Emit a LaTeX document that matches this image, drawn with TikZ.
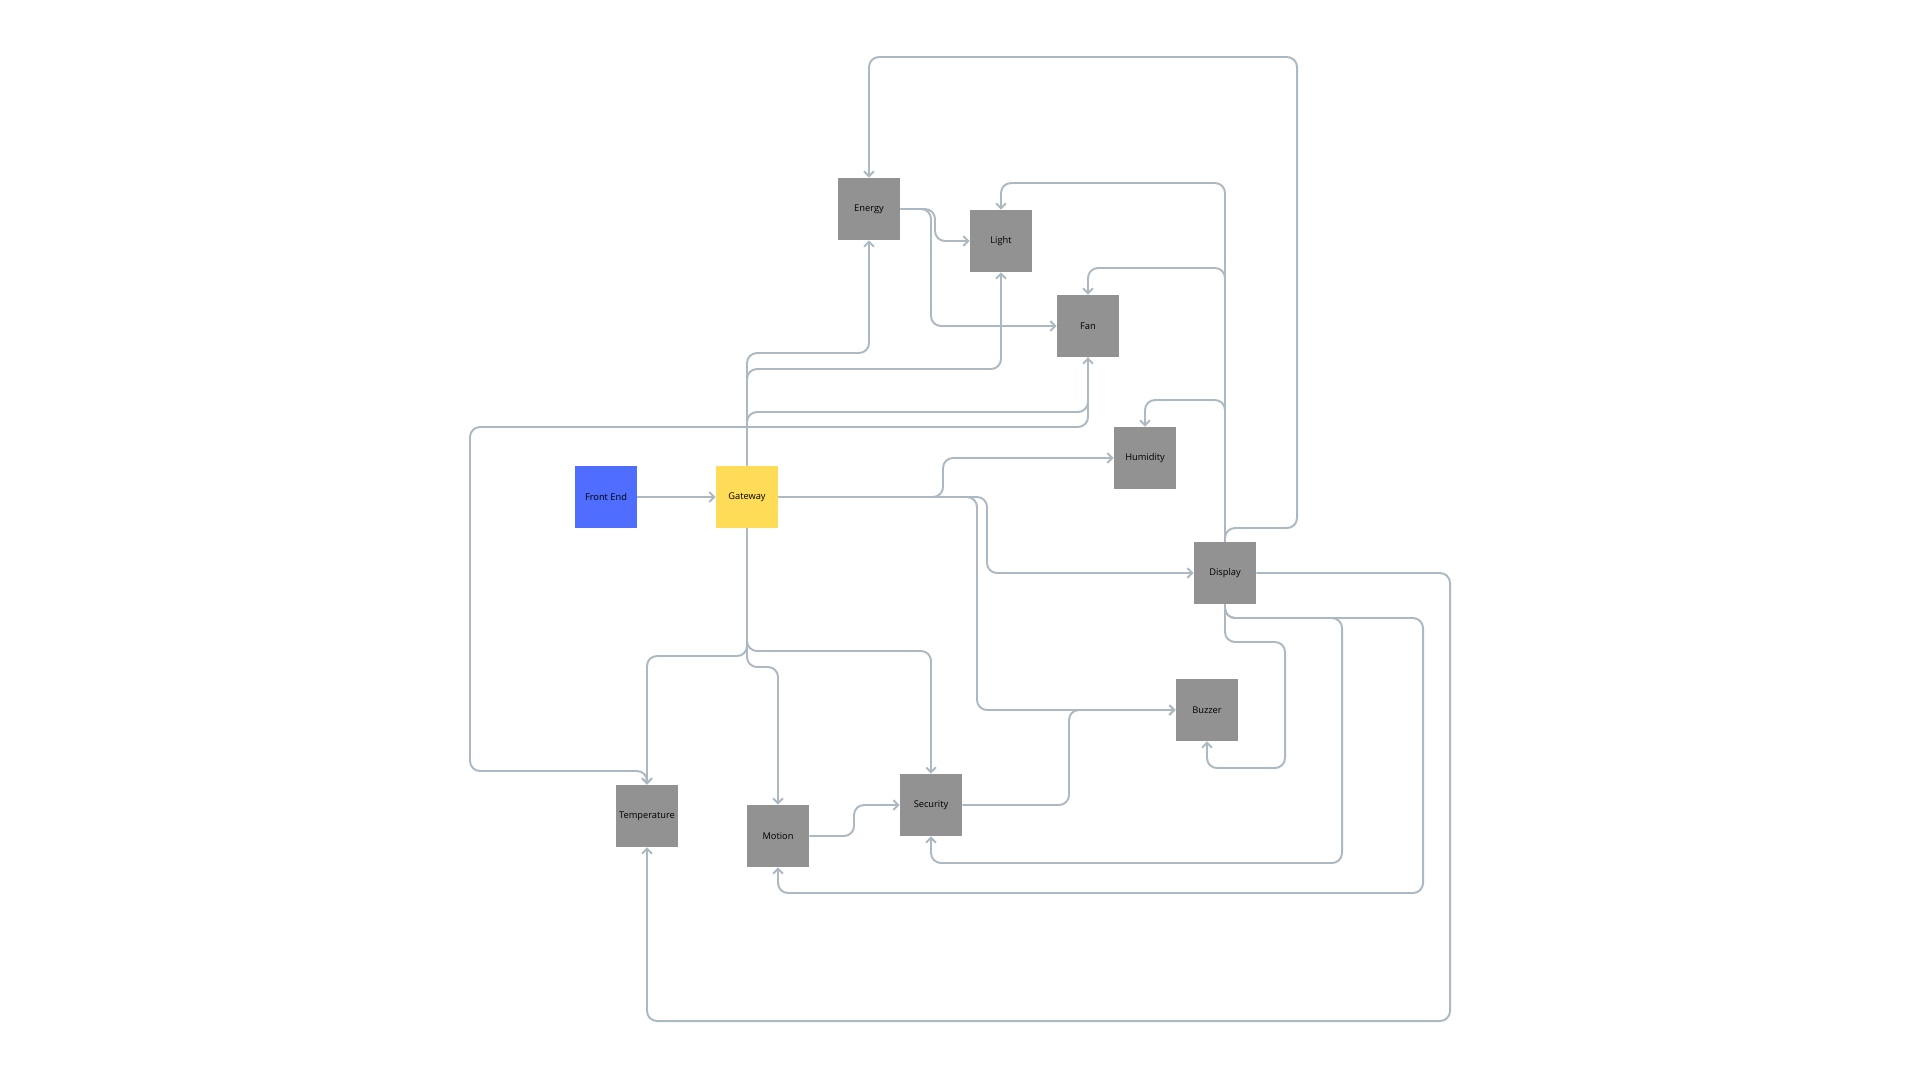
\documentclass[tikz,border=0pt]{standalone}
\usepackage{fontspec}
\setmainfont{Open Sans}
\usepackage{xcolor}
\usetikzlibrary{arrows.meta}
\definecolor{linkgray}{HTML}{ADB9C2}
\definecolor{boxgray}{HTML}{929292}
\definecolor{feblue}{HTML}{4F6DFF}
\definecolor{gwyellow}{HTML}{FFDC58}

\begin{document}
\begin{tikzpicture}[x=0.025cm, y=-0.025cm,
	box/.style={minimum width=1.55cm, minimum height=1.55cm, inner sep=0pt, text=black, font=\fontsize{6.6}{7}\selectfont},
	link/.style={draw=linkgray, line width=1.4pt, rounded corners=0.25cm, -{Straight Barb[length=3.5pt,width=7pt]}}]
\useasboundingbox (0,0) rectangle (1920,1080);
% boxes
\node[box, fill=feblue] (fe) at (606,497) {Front End};
\node[box, fill=gwyellow] (gw) at (747,497) {Gateway};
\foreach \n/\x/\y/\t in {energy/869/209/Energy, light/1001/241/Light, fan/1088/326/Fan,
	humidity/1145/458/Humidity, display/1225/573/Display, buzzer/1207/710/Buzzer,
	temp/647/816/Temperature, motion/778/836/Motion, security/931/805/Security}{
	\node[box, fill=boxgray] (\n) at (\x,\y) {\t};
	}
% gateway links
\draw[link] (fe) -- (gw);
\draw[link] (gw.north) -- (747,353) -- (869,353) -- (energy.south);
\draw[link] (gw.north) -- (747,369) -- (1001,369) -- (light.south);
\draw[link] (gw.north) -- (747,412) -- (1088,412) -- (fan.south);
\draw[link] (fan.south) -- (1088,427) -- (470,427) -- (470,771) -- (647,771) -- (temp.north);
\draw[link] (gw.east) -- (943,497) -- (943,458) -- (humidity.west);
\draw[link] (gw.east) -- (987,497) -- (987,573) -- (display.west);
\draw[link] (gw.east) -- (977,497) -- (977,710) -- (buzzer.west);
\draw[link] (gw.south) -- (747,656) -- (647,656) -- (temp.north);
\draw[link] (gw.south) -- (747,667) -- (778,667) -- (motion.north);
\draw[link] (gw.south) -- (747,651) -- (931,651) -- (security.north);
% energy links
\draw[link] (energy.east) -- (935,209) -- (935,241) -- (light.west);
\draw[link] (energy.east) -- (931,209) -- (931,326) -- (fan.west);
% display links
\draw[link] (display.north) -- (1225,183) -- (1001,183) -- (light.north);
\draw[link] (display.north) -- (1225,268) -- (1088,268) -- (fan.north);
\draw[link] (display.north) -- (1225,400) -- (1145,400) -- (humidity.north);
\draw[link] (display.north) -- (1225,528) -- (1297,528) -- (1297,57) -- (869,57) -- (energy.north);
\draw[link] (display.east) -- (1450,573) -- (1450,1021) -- (647,1021) -- (temp.south);
\draw[link] (display.south) -- (1225,618) -- (1342,618) -- (1342,863) -- (931,863) -- (security.south);
\draw[link] (display.south) -- (1225,618) -- (1423,618) -- (1423,893) -- (778,893) -- (motion.south);
\draw[link] (display.south) -- (1225,642) -- (1285,642) -- (1285,768) -- (1207,768) -- (buzzer.south);
% motion and security
\draw[link] (motion.east) -- (854,836) -- (854,805) -- (security.west);
\draw[link] (security.east) -- (1069,805) -- (1069,710) -- (buzzer.west);
\end{tikzpicture}
\end{document}
